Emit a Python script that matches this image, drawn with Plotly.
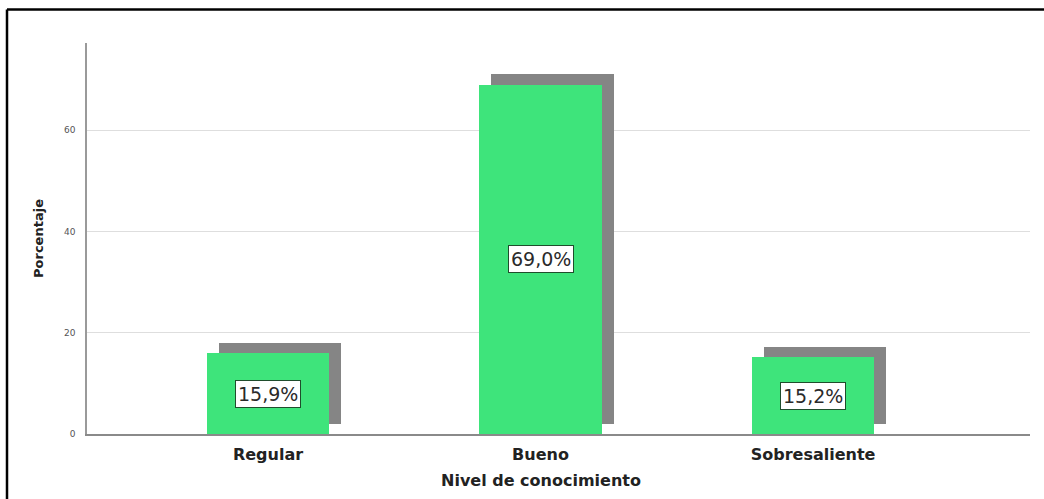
import plotly.graph_objects as go

categories = ["Regular", "Bueno", "Sobresaliente"]
percentages = [15.9, 69.0, 15.2]
labels = ["15,9%", "69,0%", "15,2%"]
y_ticks = [0, 20, 40, 60]

x_pos = list(range(len(categories)))
shadow_dx = 0.044
shadow_dy = 2.0
bar_w = 0.448

GREEN = "#3ee47b"
SHADOW = "#858585"
FONT = "DejaVu Sans, Arial, sans-serif"

fig = go.Figure()
fig.add_trace(go.Bar(
    x=[p + shadow_dx for p in x_pos], y=percentages, base=[shadow_dy] * len(percentages),
    width=bar_w, marker=dict(color=SHADOW, line=dict(width=0)),
    hoverinfo="skip", showlegend=False,
))
fig.add_trace(go.Bar(
    x=x_pos, y=percentages, width=bar_w,
    marker=dict(color=GREEN, line=dict(width=0)),
    showlegend=False,
))

for xp, v, lab in zip(x_pos, percentages, labels):
    fig.add_annotation(
        x=xp, y=v / 2, text=lab, showarrow=False,
        font=dict(family=FONT, size=19, color="#2a2a2a"),
        bgcolor="white", bordercolor="#1f4d2c", borderwidth=1, borderpad=2,
    )

fig.add_annotation(
    x=1, y=-0.12, xref="x", yref="paper", text="<b>Nivel de conocimiento</b>",
    showarrow=False, font=dict(family=FONT, size=16, color="#222"), yanchor="middle",
)

# outer frame (top and left edges)
bx = (7 - 87) / 943
by = (434 - 9.5) / 391
fig.add_shape(type="line", xref="paper", yref="paper", x0=bx, x1=1.2, y0=by, y1=by,
              line=dict(color="black", width=2.5))
fig.add_shape(type="line", xref="paper", yref="paper", x0=bx, x1=bx, y0=by, y1=-0.3,
              line=dict(color="black", width=2.5))

fig.update_layout(
    width=1044, height=499,
    margin=dict(l=87, r=14, t=43, b=65),
    paper_bgcolor="white", plot_bgcolor="white",
    barmode="overlay", bargap=0,
    font=dict(family=FONT),
    xaxis=dict(
        range=[-0.664, 2.796], tickvals=x_pos,
        ticktext=[f"<b>{c}</b>" for c in categories],
        tickfont=dict(family=FONT, size=16, color="#222"),
        showgrid=False, zeroline=False, showline=True, linecolor="#8a8a8a", linewidth=1.5,
        ticks="", ticklabelstandoff=5,
    ),
    yaxis=dict(
        range=[0, 77.2], tickvals=y_ticks,
        tickfont=dict(family=FONT, size=9, color="#555"),
        showgrid=True, gridcolor="#dedede", gridwidth=1,
        zeroline=False, showline=True, linecolor="#9a9a9a", linewidth=1.5,
        ticks="", ticklabelstandoff=8,
        title=dict(text="<b>Porcentaje</b>", font=dict(family=FONT, size=13, color="#222"), standoff=17),
    ),
)

fig.write_html("out.html")
